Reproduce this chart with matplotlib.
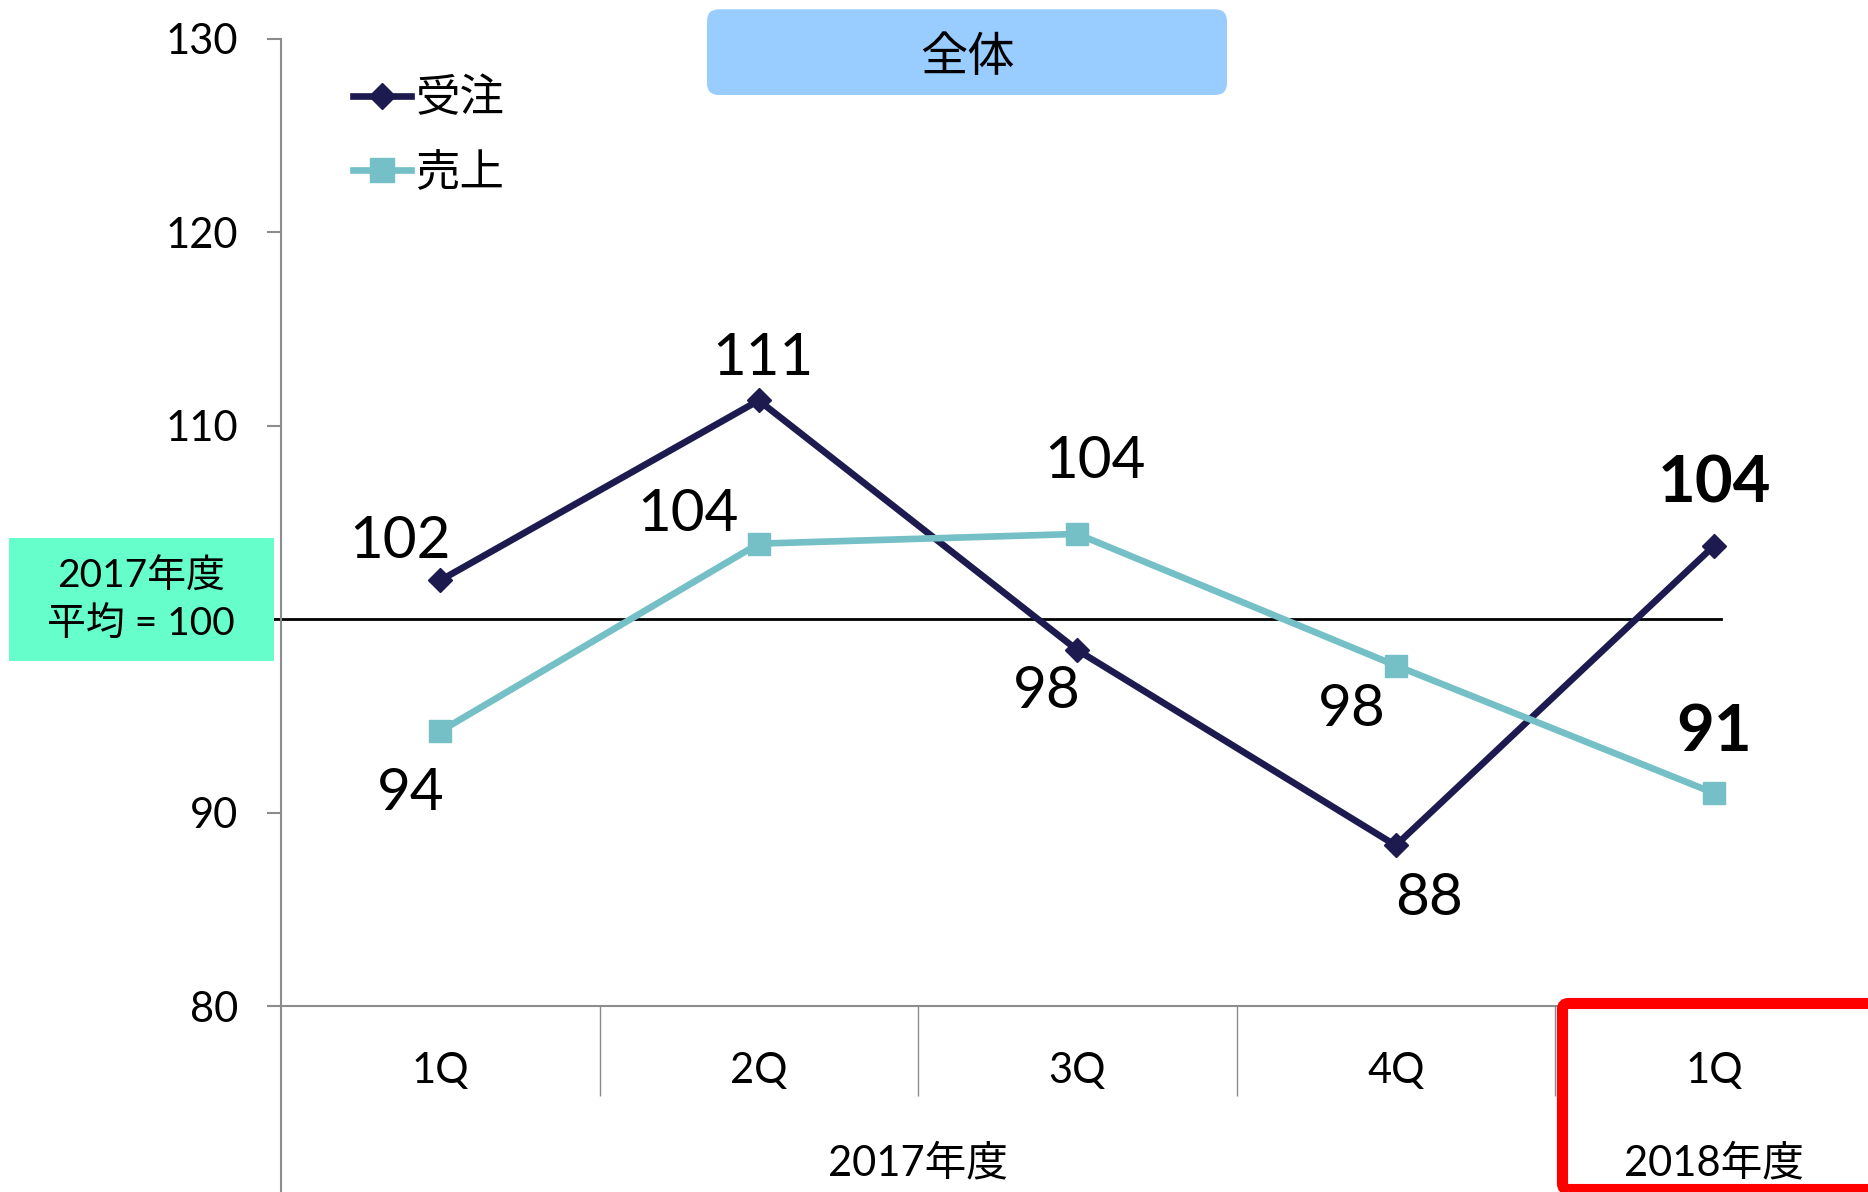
import matplotlib.pyplot as plt
import matplotlib.transforms as mtransforms
from matplotlib.patches import FancyBboxPatch

# Lato for latin text, Noto CJK for the Japanese glyphs
plt.rcParams['font.family'] = ['Lato', 'Noto Sans CJK JP']

# Data
quarters = ['1Q', '2Q', '3Q', '4Q', '1Q']
fiscal_years = ['2017年度', '2017年度', '2017年度', '2017年度', '2018年度']
orders = [102.0, 111.3, 98.4, 88.3, 103.8]   # 受注
sales = [94.2, 103.9, 104.4, 97.6, 91.0]     # 売上
baseline = 100
y_ticks = [80, 90, 100, 110, 120, 130]

# label offsets (points) for each data label
order_offsets = [(-29, 28), (3, 30), (-22, -30), (24, -38), (0, 44)]
sales_offsets = [(-21, -45), (-51, 21), (13, 52), (-32, -32), (0, 44)]

navy = '#1C1A4F'
teal = '#74C0C6'
gray = '#8C8C8C'

fig = plt.figure(figsize=(18.68, 11.92), dpi=100)
ax = fig.add_axes([281 / 1868, 186 / 1192, 1592.5 / 1868, 967.3 / 1192])

x = list(range(len(quarters)))
ax.plot(x, orders, color=navy, lw=4.8, marker='D', ms=12, label='受注', zorder=3)
ax.plot(x, sales, color=teal, lw=4.8, marker='s', ms=16, label='売上', zorder=4)

ax.set_xlim(-0.5, len(quarters) - 0.5)
ax.set_ylim(80, 130)

# reference line at 100
ax.axhline(baseline, xmin=-0.005, xmax=0.904, color='black', lw=2, clip_on=False, zorder=2)

# data labels
for vals, offs in [(orders, order_offsets), (sales, sales_offsets)]:
    for i, (v, off) in enumerate(zip(vals, offs)):
        last = (i == len(vals) - 1)
        ax.annotate(f'{v:.0f}', (i, v), xytext=off, textcoords='offset points',
                    ha='center', va='center', fontsize=47 if last else 42,
                    fontweight='bold' if last else 'normal', zorder=5)

# axes styling
for s in ['top', 'right']:
    ax.spines[s].set_visible(False)
ax.spines['left'].set_color(gray)
ax.spines['bottom'].set_color(gray)
ax.spines['left'].set_linewidth(1.5)
ax.spines['bottom'].set_linewidth(1.5)

# the 100 label sits under the note box, so leave it blank
ax.set_yticks(y_ticks, labels=['' if t == baseline else str(t) for t in y_ticks])
ax.tick_params(axis='y', length=10, width=1.5, color=gray, pad=21, labelsize=30)

# category axis: labels between divider ticks
ax.set_xticks(x, labels=quarters)
ax.tick_params(axis='x', which='major', length=0, pad=33, labelsize=30)
ax.set_xticks([i + 0.5 for i in x[:-1]], minor=True)
ax.tick_params(axis='x', which='minor', length=65, width=1, color=gray, direction='out')

# left spine continues through the category area
ax.plot([0, 0], [-0.2, 0], transform=ax.transAxes, color=gray, lw=1.5, clip_on=False)

# fiscal year group labels
trans = mtransforms.blended_transform_factory(ax.transData, ax.transAxes)
groups = []
for i, fy in enumerate(fiscal_years):
    if groups and groups[-1][0] == fy:
        groups[-1][1].append(i)
    else:
        groups.append((fy, [i]))
for fy, idx in groups:
    ax.text(sum(idx) / len(idx), -0.162, fy, transform=trans,
            ha='center', va='center', fontsize=30)

# legend
ax.legend(loc='upper left', bbox_to_anchor=(353 / 1868, 1 - 78 / 1192),
          bbox_transform=fig.transFigure, frameon=False, fontsize=32,
          handlelength=1.3, handletextpad=0.1, labelspacing=0.75,
          borderpad=0, borderaxespad=0, markerscale=1.1)

# title box
fig.patches.append(FancyBboxPatch((7.07, 10.97), 5.20, 0.857,
                                  boxstyle='round,pad=0,rounding_size=0.12',
                                  transform=fig.dpi_scale_trans,
                                  facecolor='#99CCFF', edgecolor='none'))
fig.text(967 / 1868, 1 - 57 / 1192, '全体', ha='center', va='center', fontsize=34)

# baseline note box
fig.patches.append(FancyBboxPatch((0.09, 5.313), 2.65, 1.23,
                                  boxstyle='square,pad=0',
                                  transform=fig.dpi_scale_trans,
                                  facecolor='#66FFCC', edgecolor='none'))
fig.text(141 / 1868, 1 - 601 / 1192, '2017年度\n平均 = 100', ha='center', va='center',
         multialignment='center', fontsize=28, linespacing=1.42)

# red highlight on latest quarter
fig.patches.append(FancyBboxPatch((15.625, 0.025), 3.5, 1.86,
                                  boxstyle='round,pad=0,rounding_size=0.06',
                                  transform=fig.dpi_scale_trans,
                                  facecolor='none', edgecolor='#FF0000', lw=8, zorder=6))

fig.savefig('out.png', dpi=100)
